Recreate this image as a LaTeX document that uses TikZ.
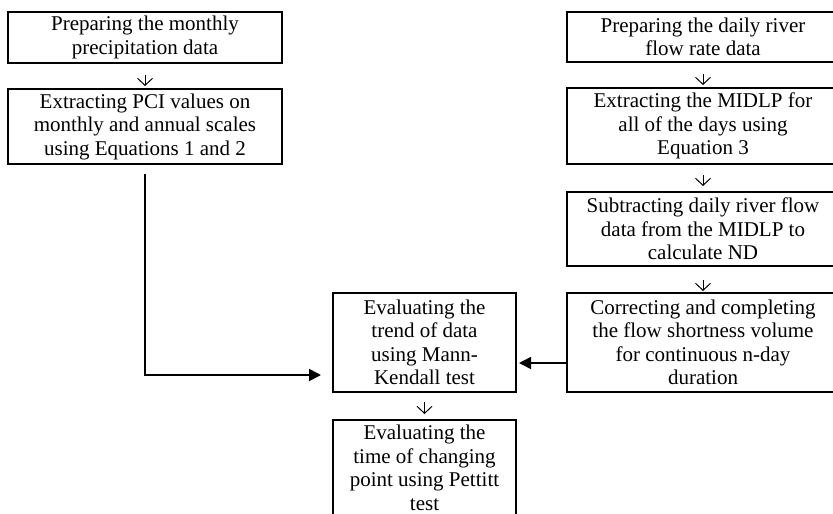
\documentclass[tikz,border=0pt]{standalone}
\usepackage{fontspec}
\setmainfont{Liberation Serif}
\usetikzlibrary{arrows.meta}
\begin{document}
\begin{tikzpicture}[x=1pt,y=-1pt,
  box/.style={draw, line width=2pt, align=center, inner sep=0pt,
    font=\fontsize{21}{23.5}\selectfont},
  leftcol/.style={box, minimum width=274pt},
  rightcol/.style={box, minimum width=272pt},
  midcol/.style={box, minimum width=183pt},
  smallarrow/.style={line width=1pt, -{Straight Barb[length=7pt,width=15pt,line width=1pt]}},
  conn/.style={line width=1.6pt, -{Triangle[length=12pt,width=12pt]}}]
\useasboundingbox (0,0) rectangle (833,514);
\fill[white] (0,0) rectangle (833,514);
\clip (0,0) rectangle (833,514);

% left column
\node[leftcol, minimum height=51pt] (A) at (145,37.5)
  {Preparing the monthly\\precipitation data};
\node[leftcol, minimum height=75pt] (B) at (145,126.5)
  {Extracting PCI values on\\monthly and annual scales\\using Equations 1 and 2};

% right column
\node[rightcol, minimum height=50pt] (C) at (703,37)
  {Preparing the daily river\\flow rate data};
\node[rightcol, minimum height=76pt] (D) at (703,126)
  {Extracting the MIDLP for\\all of the days using\\Equation 3};
\node[rightcol, minimum height=74pt] (E) at (703,229)
  {Subtracting daily river flow\\data from the MIDLP to\\calculate ND};
\node[rightcol, minimum height=99pt] (F) at (703,342.5)
  {Correcting and completing\\the flow shortness volume\\for continuous n-day\\duration};

% middle column
\node[midcol, minimum height=99pt] (G) at (424.5,342.5)
  {Evaluating the\\trend of data\\using Mann-\\Kendall test};
\node[midcol, minimum height=96pt] (H) at (424.5,468)
  {Evaluating the\\time of changing\\point using Pettitt\\test};

% small down arrows
\draw[smallarrow, shorten <=11pt, shorten >=2pt] (A) -- (B);
\draw[smallarrow, shorten <=11pt, shorten >=2pt] (C) -- (D);
\draw[smallarrow, shorten <=10pt, shorten >=5pt] (D) -- (E);
\draw[smallarrow, shorten <=13pt, shorten >=1pt] (E) -- (F);
\draw[smallarrow, shorten <=9pt, shorten >=5pt] (G) -- (H);

% main connectors
\coordinate (gin) at (G.west |- 0,375);
\draw[conn, shorten <=9pt, shorten >=11pt] (B.south) |- (gin);
\coordinate (fout) at (F.west |- 0,363);
\draw[conn, shorten >=2pt] (fout) -- (G.east |- fout);
\end{tikzpicture}
\end{document}
